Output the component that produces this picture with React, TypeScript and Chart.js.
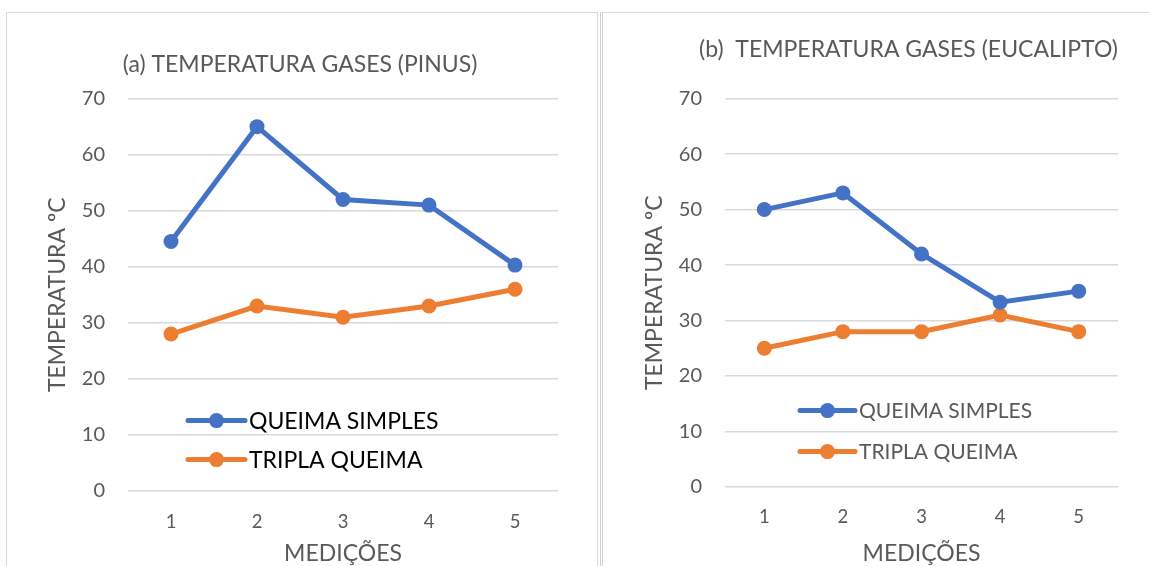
import React, { useEffect, useRef } from "react";
import { Chart, registerables } from "chart.js";

Chart.register(...registerables);

// ---------- data ----------
const categories = ["1", "2", "3", "4", "5"];
const seriesLabels = ["QUEIMA SIMPLES", "TRIPLA QUEIMA"];
const pinusSimples = [44.5, 65, 52, 51, 40.3];
const pinusTripla = [28, 33, 31, 33, 36];
const eucaliptoSimples = [50, 53, 42, 33.3, 35.3];
const eucaliptoTripla = [25, 28, 28, 31, 28];
const yMin = 0;
const yMax = 70;
const yStep = 10;
const titleA = "(a) TEMPERATURA GASES (PINUS)";
const titleB = "(b)  TEMPERATURA GASES (EUCALIPTO)";
const yAxisTitle = "TEMPERATURA ºC";
const xAxisTitle = "MEDIÇÕES";

const BLUE = "#4472C4";
const ORANGE = "#ED7D31";
const GRID = "#D9D9D9";
const TEXT = "#595959";
const FONT = "Lato, 'Open Sans', sans-serif";

const insideLegend = {
  id: "insideLegend",
  afterDatasetsDraw(chart: any, _args: any, opts: any) {
    const ctx = chart.ctx;
    chart.data.datasets.forEach((ds: any, i: number) => {
      const y = chart.chartArea.top + opts.dy[i];
      const x = chart.chartArea.left + opts.dx;
      ctx.save();
      ctx.strokeStyle = ds.borderColor;
      ctx.lineWidth = ds.borderWidth;
      ctx.lineCap = "round";
      ctx.beginPath();
      ctx.moveTo(x, y);
      ctx.lineTo(x + opts.lineLen, y);
      ctx.stroke();
      ctx.fillStyle = ds.backgroundColor;
      ctx.beginPath();
      ctx.arc(x + opts.lineLen / 2, y, ds.pointRadius, 0, Math.PI * 2);
      ctx.fill();
      ctx.fillStyle = opts.color;
      ctx.font = `${opts.size}px ${FONT}`;
      ctx.textBaseline = "middle";
      ctx.textAlign = "left";
      ctx.fillText(ds.label, x + opts.lineLen + opts.gap, y + 1);
      ctx.restore();
    });
  },
};

type PanelProps = {
  title: string;
  simples: number[];
  tripla: number[];
  width: number;
  height: number;
  cfg: any;
};

function ChartPanel({ title, simples, tripla, width, height, cfg }: PanelProps) {
  const ref = useRef<HTMLCanvasElement | null>(null);
  useEffect(() => {
    if (!ref.current) return;
    const mk = (label: string, data: number[], color: string) => ({
      label,
      data,
      borderColor: color,
      backgroundColor: color,
      borderWidth: 5,
      pointRadius: 7.5,
      pointHoverRadius: 7.5,
      pointBorderWidth: 0,
      tension: 0,
    });
    const chart = new Chart(ref.current, {
      type: "line",
      data: {
        labels: categories,
        datasets: [mk(seriesLabels[0], simples, BLUE), mk(seriesLabels[1], tripla, ORANGE)],
      },
      plugins: [insideLegend],
      options: {
        animation: false,
        responsive: false,
        maintainAspectRatio: false,
        layout: { padding: { left: cfg.padLeft, right: cfg.padRight, top: 0, bottom: 0 } },
        plugins: {
          legend: { display: false },
          tooltip: { enabled: false },
          title: {
            display: true,
            text: title,
            align: cfg.titleAlign,
            color: TEXT,
            font: { family: FONT, size: 23, weight: "normal", lineHeight: 1.2 },
            padding: { top: cfg.titleTop, bottom: cfg.titleBottom },
          },
          insideLegend: cfg.legend,
        } as any,
        scales: {
          x: {
            type: "category",
            offset: true,
            grid: { display: false, drawTicks: false },
            border: { display: false },
            ticks: { color: TEXT, font: { family: FONT, size: 18.5 }, padding: cfg.xTickPad },
            title: {
              display: true,
              text: xAxisTitle,
              color: TEXT,
              font: { family: FONT, size: 23, lineHeight: 1.2 },
              padding: { top: 0, bottom: cfg.xTitleBottom },
            },
            afterFit: (s: any) => {
              s.height = cfg.xHeight;
            },
          },
          y: {
            min: yMin,
            max: yMax,
            grid: { color: GRID, lineWidth: 1.5, drawTicks: false },
            border: { display: false },
            ticks: { stepSize: yStep, color: TEXT, font: { family: FONT, size: 20 }, padding: 23 },
            title: {
              display: true,
              text: yAxisTitle,
              color: TEXT,
              font: { family: FONT, size: 23, lineHeight: 1.2 },
              padding: { top: cfg.yTitleTop, bottom: 0 },
            },
            afterFit: (s: any) => {
              s.width = cfg.yWidth;
            },
          },
        },
      },
    } as any);
    return () => chart.destroy();
  }, [title, simples, tripla, cfg]);
  return <canvas ref={ref} width={width} height={height} style={{ display: "block", width, height }} />;
}

const cfgA = {
  padLeft: 34,
  padRight: 40,
  titleAlign: "center",
  titleTop: 37,
  titleBottom: 20,
  xTickPad: 20,
  xTitleBottom: -1,
  xHeight: 75,
  yTitleTop: 2,
  yWidth: 86,
  legend: { dx: 60, dy: [322, 361], lineLen: 57, gap: 4, size: 23, color: "#000000" },
};

const cfgB = {
  padLeft: 0,
  padRight: 86,
  titleAlign: "end",
  titleTop: 22,
  titleBottom: 35,
  xTickPad: 19,
  xTitleBottom: -1,
  xHeight: 79,
  yTitleTop: 37,
  yWidth: 121,
  legend: { dx: 75, dy: [312, 353], lineLen: 55, gap: 4, size: 21, color: TEXT },
};

export default function App() {
  return (
    <div
      style={{
        position: "absolute",
        left: 0,
        top: 0,
        width: 1149,
        height: 566,
        overflow: "hidden",
        background: "#ffffff",
      }}
    >
      <div
        style={{
          position: "absolute",
          left: 6,
          top: 12,
          width: 592,
          height: 600,
          border: "1px solid #D9D9D9",
          boxSizing: "border-box",
        }}
      />
      <div
        style={{
          position: "absolute",
          left: 600,
          top: 12,
          width: 620,
          height: 600,
          borderTop: "1px solid #D9D9D9",
          borderLeft: "3px double #D0D0D0",
          boxSizing: "border-box",
        }}
      />
      <div style={{ position: "absolute", left: 8, top: 14 }}>
        <ChartPanel title={titleA} simples={pinusSimples} tripla={pinusTripla} width={590} height={552} cfg={cfgA} />
      </div>
      <div style={{ position: "absolute", left: 604, top: 14 }}>
        <ChartPanel
          title={titleB}
          simples={eucaliptoSimples}
          tripla={eucaliptoTripla}
          width={600}
          height={552}
          cfg={cfgB}
        />
      </div>
    </div>
  );
}
